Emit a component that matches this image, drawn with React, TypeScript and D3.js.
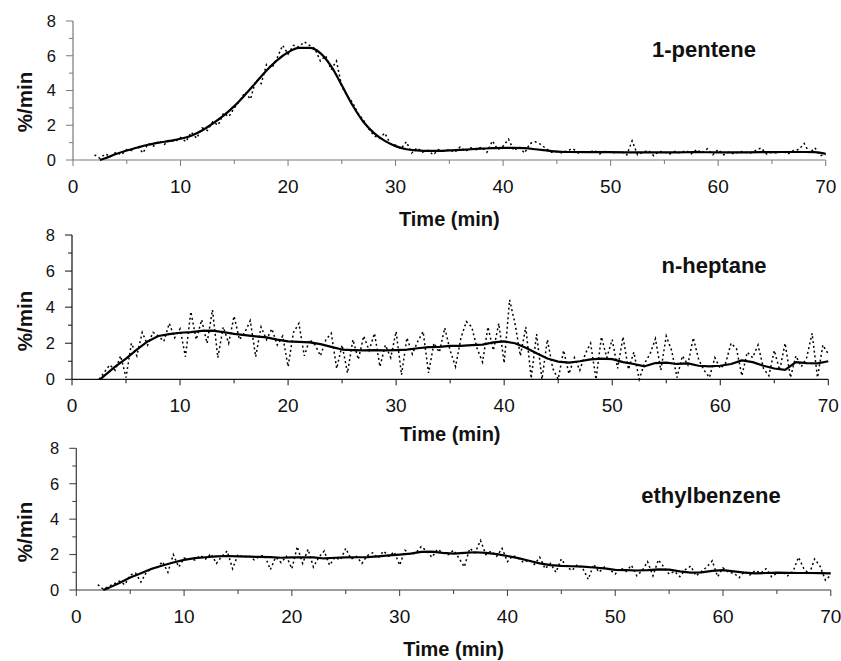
import React from "react";
import * as d3 from "d3";

// ---------- DATA ----------
const X_TICKS = [0, 10, 20, 30, 40, 50, 60, 70];
const X_MINOR = [5, 15, 25, 35, 45, 55, 65];
const Y_TICKS = [0, 2, 4, 6, 8];
const Y_MINOR = [1, 3, 5, 7];
const PANEL_LABELS = ["1-pentene", "n-heptane", "ethylbenzene"];

// 1-pentene raw (t = 2.0 .. 70.0 step 0.5)
const PENTENE_RAW = [
  0.3, 0.1, 0.35, 0.2, 0.45, 0.3, 0.6, 0.55, 0.8, 0.4, 0.95, 0.8, 1.1, 0.9, 1.15, 1.05,
  1.3, 1.05, 1.6, 1.25, 1.85, 1.7, 2.2, 2.0, 2.7, 2.5, 3.0, 3.4, 3.9, 3.5, 4.6, 4.4,
  5.5, 5.3, 5.9, 6.6, 6.1, 6.6, 6.5, 6.8, 6.6, 6.4, 5.7, 6.0, 5.2, 5.7, 4.2, 3.7,
  3.3, 2.7, 2.3, 1.8, 1.4, 1.25, 1.55, 0.95, 0.85, 0.65, 1.05, 0.4, 0.7, 0.45, 0.55, 0.3,
  0.6, 0.5, 0.6, 0.45, 0.75, 0.5, 0.7, 0.6, 0.75, 0.45, 1.1, 0.6, 0.8, 1.2, 0.55, 0.75,
  0.4, 0.95, 1.05, 0.9, 0.65, 0.45, 0.5, 0.4, 0.55, 0.65, 0.4, 0.5, 0.45, 0.55, 0.35, 0.5,
  0.45, 0.4, 0.5, 0.3, 1.1, 0.3, 0.45, 0.55, 0.25, 0.5, 0.45, 0.35, 0.5, 0.4, 0.55, 0.35,
  0.6, 0.4, 0.65, 0.3, 0.6, 0.3, 0.45, 0.35, 0.5, 0.45, 0.4, 0.55, 0.7, 0.35, 0.45, 0.4,
  0.5, 0.35, 0.55, 0.6, 0.95, 0.4, 0.7, 0.25, 0.3,
];
const PENTENE_SMOOTH_T = [
  2.5, 3, 4, 5, 6, 7, 8, 9, 10, 11, 12, 13, 14, 15, 16, 17, 18, 19, 20, 21, 22, 23, 24, 25,
  26, 27, 28, 29, 30, 31, 32, 33, 34, 35, 36, 37, 38, 39, 40, 41, 42, 43, 44, 45, 46,
  48, 50, 52, 54, 56, 58, 60, 62, 64, 66, 68, 69, 70,
];
const PENTENE_SMOOTH = [
  0, 0.1, 0.35, 0.55, 0.72, 0.88, 1.0, 1.1, 1.22, 1.4, 1.7, 2.1, 2.55, 3.1, 3.75, 4.45,
  5.15, 5.75, 6.2, 6.45, 6.45, 6.15, 5.4, 4.3, 3.15, 2.2, 1.55, 1.1, 0.8, 0.62, 0.55,
  0.52, 0.52, 0.55, 0.58, 0.62, 0.65, 0.68, 0.7, 0.7, 0.68, 0.62, 0.55, 0.48, 0.46,
  0.45, 0.45, 0.44, 0.44, 0.44, 0.45, 0.44, 0.44, 0.45, 0.46, 0.46, 0.45, 0.35,
];

// n-heptane raw (t = 2.5 .. 70.0 step 0.5)
const HEPTANE_RAW = [
  0.0, 0.4, 0.8, 0.5, 1.3, 0.1, 2.0, 1.3, 2.6, 1.9, 2.6, 2.4, 2.1, 3.1, 2.3, 2.8,
  1.25, 3.75, 2.2, 3.3, 2.0, 3.85, 1.2, 2.9, 2.0, 3.5, 2.2, 2.6, 3.25, 1.25, 2.9, 2.2,
  2.8, 1.9, 2.4, 0.7, 2.6, 3.1, 1.3, 2.2, 1.9, 1.3, 2.2, 2.55, 0.6, 1.9, 0.35, 2.2,
  1.1, 2.4, 1.6, 2.55, 0.7, 1.9, 1.2, 2.65, 0.25, 2.3, 1.4, 2.1, 2.65, 0.35, 2.0, 1.5,
  2.85, 1.6, 0.7, 2.3, 3.2, 2.9, 1.7, 0.95, 2.9, 1.6, 3.1, 0.9, 4.4, 3.1, 1.3, 2.9,
  0.05, 2.5, 0.0, 2.2, 0.6, 0.0, 1.6, 0.3, 1.2, 0.5, 1.4, 2.0, 0.0, 2.35, 1.2, 2.2,
  0.6, 2.35, 0.55, 1.5, 0.0, 0.9, 1.4, 2.25, 0.5, 2.4, 1.6, 0.1, 1.3, 0.8, 2.3, 1.1,
  0.5, 0.1, 1.2, 0.6, 0.9, 2.0, 1.7, 0.2, 1.5, 1.2, 1.9, 0.6, 0.2, 1.6, 0.5, 2.0,
  0.1, 1.3, 0.7, 1.2, 2.55, 0.1, 1.9, 1.4,
];
const HEPTANE_SMOOTH = [
  0, 0.2, 0.7, 1.15, 1.65, 2.1, 2.4, 2.5, 2.58, 2.62, 2.68, 2.7, 2.62, 2.52, 2.45, 2.38,
  2.32, 2.2, 2.1, 2.08, 2.05, 1.95, 1.8, 1.65, 1.62, 1.6, 1.62, 1.6, 1.62, 1.65, 1.72,
  1.78, 1.8, 1.85, 1.85, 1.9, 1.92, 2.05, 2.1, 2.0, 1.75, 1.45, 1.15, 0.98, 0.92, 1.0,
  1.1, 1.15, 1.12, 0.95, 0.85, 0.72, 0.9, 0.92, 0.85, 0.88, 0.75, 0.72, 0.75, 0.85,
  1.05, 0.95, 0.75, 0.6, 0.52, 0.95, 0.9, 0.88, 1.0,
];

// ethylbenzene raw (t = 2.0 .. 70.0 step 0.5)
const ETHYL_RAW = [
  0.3, 0.05, 0.2, 0.35, 0.5, 0.3, 0.85, 0.95, 0.45, 1.0, 1.2, 1.25, 1.6, 1.0, 2.0, 1.3,
  1.8, 1.75, 1.7, 1.95, 1.75, 2.05, 1.5, 1.9, 2.2, 1.2, 2.0, 1.85, 1.95, 1.7, 1.9, 1.95,
  1.15, 1.85, 1.55, 1.9, 1.2, 2.45, 1.5, 2.3, 1.3, 1.85, 2.2, 1.4, 1.85, 1.7, 2.35, 1.75,
  1.9, 1.5, 1.95, 2.1, 1.8, 2.2, 1.9, 2.15, 1.4, 2.25, 2.0, 2.1, 2.45, 2.2, 1.85, 2.3,
  2.1, 2.0, 2.25, 1.8, 1.3, 2.35, 2.1, 2.8, 2.0, 2.2, 1.9, 2.35, 1.6, 1.95, 1.8, 1.55,
  1.7, 1.45, 1.85, 1.2, 1.5, 1.0, 1.75, 1.3, 1.1, 1.45, 1.2, 0.6, 1.45, 1.0, 1.3, 1.15,
  0.9, 1.25, 1.05, 1.4, 0.8, 1.1, 1.6, 0.8, 1.7, 1.3, 0.9, 1.05, 0.75, 1.15, 1.35, 0.8,
  1.05, 1.3, 1.65, 0.75, 1.25, 1.0, 0.95, 0.7, 1.05, 0.85, 1.1, 0.95, 1.2, 0.75, 0.95, 1.0,
  0.8, 1.05, 1.85, 1.2, 0.9, 1.75, 1.35, 0.55, 0.85,
];
const ETHYL_SMOOTH = [
  0, 0.12, 0.4, 0.7, 0.95, 1.2, 1.38, 1.55, 1.7, 1.8, 1.85, 1.9, 1.92, 1.9, 1.88, 1.87,
  1.86, 1.82, 1.84, 1.85, 1.84, 1.78, 1.82, 1.84, 1.85, 1.86, 1.9, 1.95, 2.0, 2.05,
  2.15, 2.17, 2.1, 2.05, 2.1, 2.13, 2.1, 2.03, 1.92, 1.8, 1.65, 1.5, 1.4, 1.36, 1.34,
  1.32, 1.27, 1.22, 1.14, 1.12, 1.1, 1.12, 1.16, 1.15, 1.05, 0.98, 1.0, 1.08, 1.12,
  1.05, 0.98, 0.94, 0.96, 0.98, 0.97, 0.96, 0.96, 0.95, 0.94,
];

// ---------- LAYOUT ----------
const W = 841;
const H = 661;
const FONT = "Arial, 'Liberation Sans', Helvetica, sans-serif";

type Panel = {
  label: string;
  rawT: number[];
  raw: number[];
  smoothT: number[];
  smooth: number[];
  xr: [number, number];
  yr: [number, number];
  axis: string;
  curve: d3.CurveFactory;
  labelPos: [number, number];
  xTitleY: number;
  xTickY: number;
  yTitleY: number;
};

const panels: Panel[] = [
  {
    label: PANEL_LABELS[0],
    rawT: d3.range(2, 70.001, 0.5),
    raw: PENTENE_RAW,
    smoothT: PENTENE_SMOOTH_T,
    smooth: PENTENE_SMOOTH,
    xr: [73, 825.7],
    yr: [160, 21],
    axis: "#7a7a7a",
    curve: d3.curveMonotoneX,
    labelPos: [704, 57],
    xTitleY: 226,
    xTickY: 192.5,
    yTitleY: 102,
  },
  {
    label: PANEL_LABELS[1],
    rawT: d3.range(2.5, 70.001, 0.5),
    raw: HEPTANE_RAW,
    smoothT: [2.6, ...d3.range(3, 70.001, 1)],
    smooth: HEPTANE_SMOOTH,
    xr: [72, 828.3],
    yr: [379.3, 235],
    axis: "#111",
    curve: d3.curveLinear,
    labelPos: [714, 273],
    xTitleY: 441,
    xTickY: 411.5,
    yTitleY: 321,
  },
  {
    label: PANEL_LABELS[2],
    rawT: d3.range(2, 70.001, 0.5),
    raw: ETHYL_RAW,
    smoothT: [2.5, ...d3.range(3, 70.001, 1)],
    smooth: ETHYL_SMOOTH,
    xr: [76.3, 830.8],
    yr: [590, 448.3],
    axis: "#3a3a3a",
    curve: d3.curveLinear,
    labelPos: [711, 503],
    xTitleY: 656,
    xTickY: 622.5,
    yTitleY: 532,
  },
];

function zip(t: number[], v: number[]): [number, number][] {
  const n = Math.min(t.length, v.length);
  const out: [number, number][] = [];
  for (let i = 0; i < n; i++) out.push([t[i], v[i]]);
  return out;
}

function PanelView({ p }: { p: Panel }) {
  const x = d3.scaleLinear().domain([0, 70]).range(p.xr);
  const y = d3.scaleLinear().domain([0, 8]).range(p.yr);
  const rawLine = d3
    .line<[number, number]>()
    .x((d) => x(d[0]))
    .y((d) => y(Math.max(0, d[1])));
  const smoothLine = d3
    .line<[number, number]>()
    .curve(p.curve)
    .x((d) => x(d[0]))
    .y((d) => y(d[1]));
  const x0 = p.xr[0];
  const y0 = p.yr[0];
  const midX = (p.xr[0] + p.xr[1]) / 2;
  return (
    <g>
      {/* axes */}
      <line x1={x0} x2={x0} y1={y(0)} y2={y(8)} stroke={p.axis} strokeWidth={1.2} />
      <line x1={x(0)} x2={x(70)} y1={y0} y2={y0} stroke={p.axis} strokeWidth={1.2} />
      {Y_TICKS.map((v) => (
        <g key={"yt" + v}>
          <line x1={x0 - 7} x2={x0} y1={y(v)} y2={y(v)} stroke={p.axis} strokeWidth={1} />
          <text
            x={x0 - 17}
            y={y(v)}
            dy="0.35em"
            textAnchor="end"
            fontSize={16.5}
            fontFamily={FONT}
            fill="#111"
          >
            {v}
          </text>
        </g>
      ))}
      {Y_MINOR.map((v) => (
        <line key={"ym" + v} x1={x0 - 4} x2={x0} y1={y(v)} y2={y(v)} stroke={p.axis} strokeWidth={1} />
      ))}
      {X_TICKS.map((v) => (
        <g key={"xt" + v}>
          <line x1={x(v)} x2={x(v)} y1={y0} y2={y0 + 6} stroke={p.axis} strokeWidth={1} />
          <text
            x={x(v)}
            y={p.xTickY}
            textAnchor="middle"
            fontSize={19}
            fontFamily={FONT}
            fill="#111"
          >
            {v}
          </text>
        </g>
      ))}
      {X_MINOR.map((v) => (
        <line key={"xm" + v} x1={x(v)} x2={x(v)} y1={y0} y2={y0 + 4} stroke={p.axis} strokeWidth={1} />
      ))}
      {/* data */}
      <path
        d={rawLine(zip(p.rawT, p.raw)) || ""}
        fill="none"
        stroke="#000"
        strokeWidth={1.5}
        strokeDasharray="2 2.8"
      />
      <path
        d={smoothLine(zip(p.smoothT, p.smooth)) || ""}
        fill="none"
        stroke="#000"
        strokeWidth={2.2}
        strokeLinejoin="round"
      />
      {/* titles */}
      <text
        x={midX}
        y={p.xTitleY}
        textAnchor="middle"
        fontSize={20}
        fontWeight="bold"
        fontFamily={FONT}
        fill="#111"
      >
        Time (min)
      </text>
      <text
        transform={`translate(31.5,${p.yTitleY}) rotate(-90)`}
        textAnchor="middle"
        fontSize={20.5}
        fontWeight="bold"
        fontFamily={FONT}
        fill="#111"
      >
        %/min
      </text>
      <text
        x={p.labelPos[0]}
        y={p.labelPos[1]}
        textAnchor="middle"
        fontSize={22}
        fontWeight="bold"
        fontFamily={FONT}
        fill="#111"
      >
        {p.label}
      </text>
    </g>
  );
}

export default function App() {
  return (
    <svg
      width={W}
      height={H}
      viewBox={`0 0 ${W} ${H}`}
      style={{ position: "absolute", left: 0, top: 0, background: "#fff" }}
    >
      <rect x={0} y={0} width={W} height={H} fill="#fff" />
      {panels.map((p) => (
        <PanelView key={p.label} p={p} />
      ))}
    </svg>
  );
}
